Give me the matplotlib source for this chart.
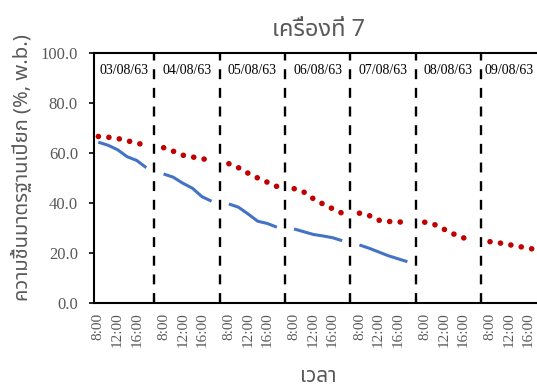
import numpy as np
import matplotlib
matplotlib.use("Agg")
import matplotlib.pyplot as plt
import matplotlib.transforms as mtransforms

# Drying days (Thai Buddhist-era dates) and reading hours within each day
days = ["03/08/63", "04/08/63", "05/08/63", "06/08/63", "07/08/63", "08/08/63", "09/08/63"]
hours = [8, 10, 12, 14, 16, 18]
hour_labels = ["8:00", "12:00", "16:00"]
labelled_hours = [8, 12, 16]

# Wet-basis moisture content (%), one row per day; NaN = no reading
moisture_solid = [
    [64.2, 63.0, 61.2, 58.4, 56.9, 54.0],
    [51.5, 50.2, 47.8, 45.8, 42.4, 40.6],
    [39.5, 38.2, 35.5, 32.6, 31.7, 30.2],
    [29.5, 28.4, 27.3, 26.7, 26.0, 24.8],
    [23.1, 21.8, 20.3, 18.8, 17.6, 16.4],
    [np.nan] * 6,
    [np.nan] * 6,
]
moisture_dotted = [
    [66.5, 66.2, 65.7, 64.8, 63.8, 63.0],
    [62.0, 60.6, 59.0, 58.3, 57.6, 56.9],
    [55.6, 54.0, 51.8, 49.9, 48.2, 46.5],
    [45.6, 44.3, 41.6, 39.5, 37.6, 35.8],
    [35.8, 34.9, 33.0, 32.5, 32.3, 32.2],
    [32.2, 31.3, 29.4, 27.5, 26.0, 24.8],
    [24.4, 23.9, 23.2, 22.5, 21.8, 21.1],
]

title = "เครื่องที่ 7"
x_title = "เวลา"
y_title = "ความชื้นมาตรฐานเปียก (%, w.b.)"

# Layout of the compressed time axis (hours; nights are squeezed out)
DAY_SPAN = 13.6       # axis hours allotted to one day
DIVIDER_AT = 11.7     # hours after 8:00 where the day divider sits
BLUE = "#4472C4"
RED = "#C00000"
GREY = "#595959"
SERIF = "Liberation Serif"
THAI = ["Noto Sans Thai", "Noto Sans", "DejaVu Sans"]

W, H = 537, 392
fig = plt.figure(figsize=(W / 100, H / 100), dpi=100)
ax = fig.add_axes([94 / W, (H - 302.7) / H, 443 / W, 250 / H])


def xpos(day_idx, hour):
    return day_idx * DAY_SPAN + (hour - 8)


n_days = len(days)
DOT_LW = 4.0
DOT_PERIOD_PT = 7.6
for d in range(n_days):
    xs = [xpos(d, h) for h in hours]
    ax.plot(xs, moisture_solid[d], color=BLUE, lw=2.2, solid_capstyle="butt",
            solid_joinstyle="round", zorder=3)
    ax.plot(xs, moisture_dotted[d], color=RED, lw=DOT_LW,
            linestyle=(0, (0.02, DOT_PERIOD_PT / DOT_LW - 0.02)),
            dash_capstyle="round", zorder=4)

# Day dividers
dividers = [xpos(d, 8) + DIVIDER_AT for d in range(n_days - 1)]
for xv in dividers:
    ax.axvline(xv, color="black", lw=1.7, linestyle=(0, (4.2, 3.7)), zorder=2)

xmin, xmax = -0.9, 91.4
ax.set_xlim(xmin, xmax)
ax.set_ylim(0, 100)

# Date captions centred in each day band
bounds = [xmin] + dividers + [xmax]
trans = mtransforms.blended_transform_factory(ax.transData, ax.transAxes)
for d, name in enumerate(days):
    ax.text((bounds[d] + bounds[d + 1]) / 2, 0.927, name, transform=trans,
            ha="center", va="center", fontsize=10, family=SERIF, color="black")

# Axes styling
for side in ["left", "bottom", "top"]:
    ax.spines[side].set_color("black")
    ax.spines[side].set_linewidth(1.5)
ax.spines["right"].set_visible(False)

ax.set_yticks(np.arange(0, 101, 20))
ax.set_yticklabels([f"{v:.1f}" for v in np.arange(0, 101, 20)])
ax.tick_params(axis="y", direction="out", length=3.6, width=1.2, color="black",
               pad=8, labelsize=12, labelcolor=GREY)
for lab in ax.get_yticklabels():
    lab.set_family(SERIF)

ax.set_xticks(dividers)
ax.set_xticklabels([])
ax.tick_params(axis="x", which="major", direction="in", length=3.5, width=1.5, color="black")
minor_pos = [xpos(d, h) for d in range(n_days) for h in labelled_hours]
minor_lab = [lab for d in range(n_days) for lab in hour_labels]
ax.set_xticks(minor_pos, minor=True)
ax.set_xticklabels(minor_lab, minor=True, rotation=90, family=SERIF,
                   fontsize=11, color=GREY)
ax.tick_params(axis="x", which="minor", length=0, pad=7)

fig.text(318 / W, 1 - 30 / H, title, ha="center", va="center", fontsize=17,
         color=GREY, family=THAI)
fig.text(318 / W, 1 - 377 / H, x_title, ha="center", va="center", fontsize=15,
         color=GREY, family=THAI)
fig.text(22 / W, 1 - 168 / H, y_title, ha="center", va="center", rotation=90,
         fontsize=14.5, color=GREY, family=THAI)

fig.savefig("out.png", dpi=100)
